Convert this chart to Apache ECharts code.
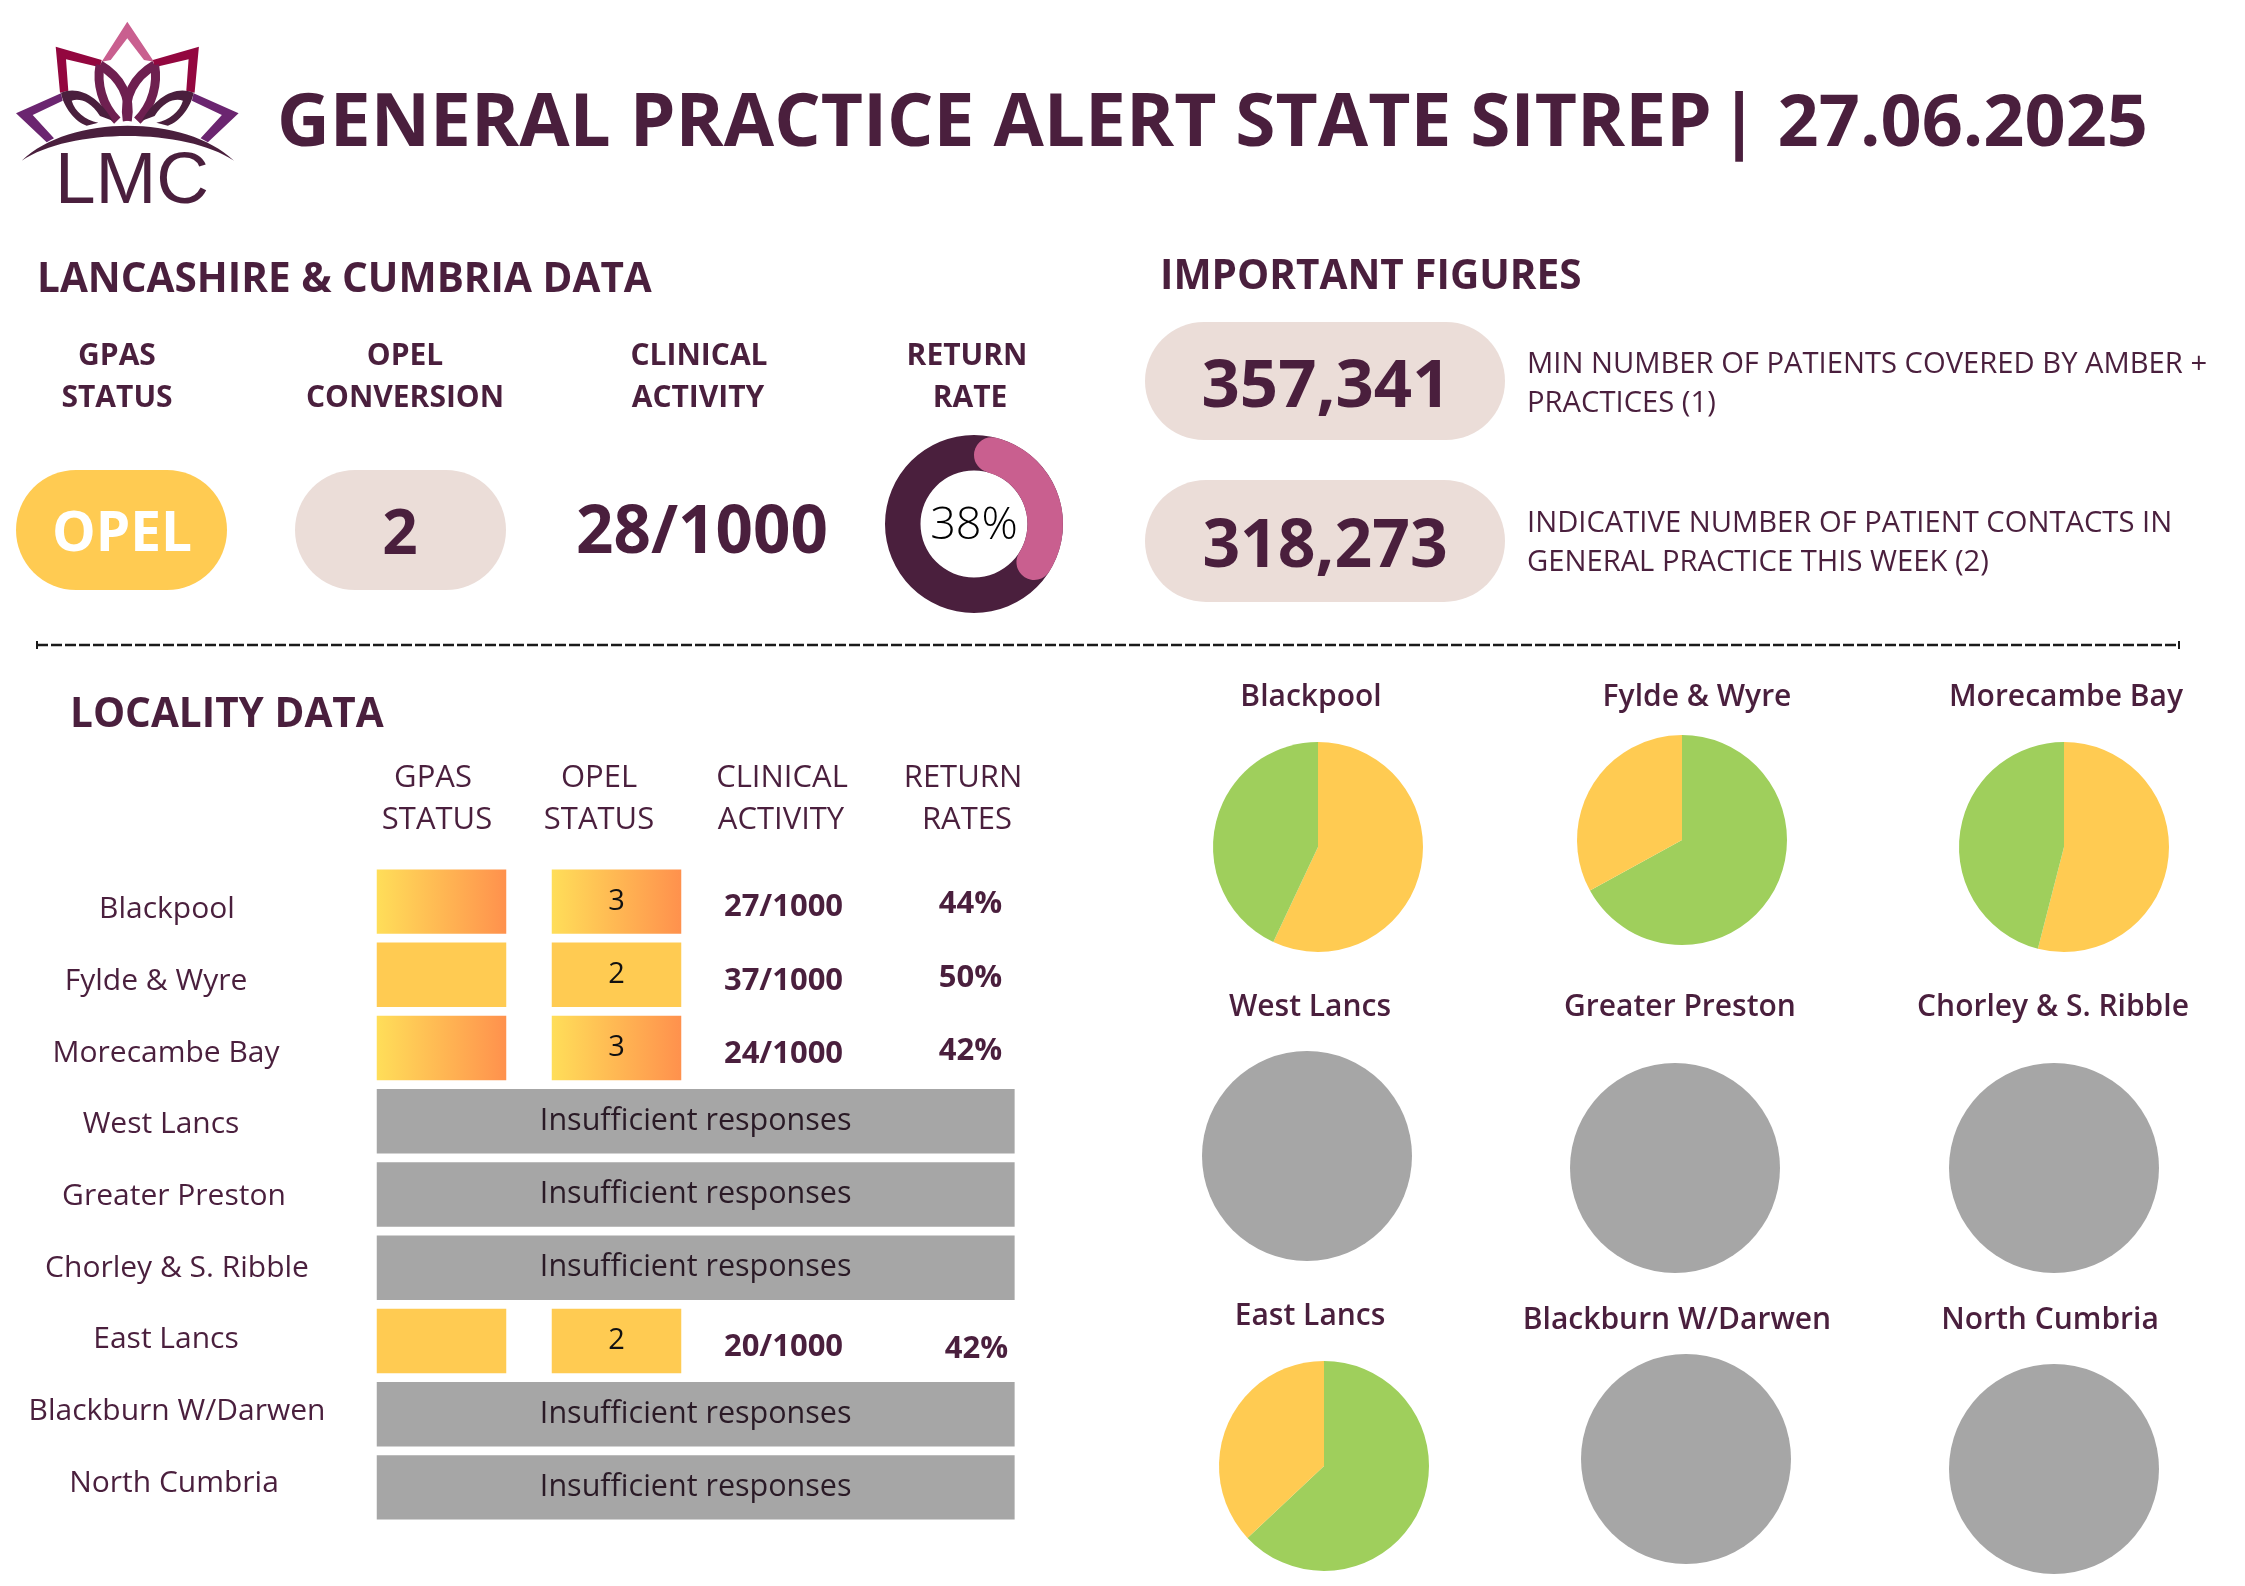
<!DOCTYPE html>
<html>
<head>
<meta charset="utf-8">
<title>General Practice Alert State Sitrep</title>
<script src="https://cdn.jsdelivr.net/npm/echarts@6/dist/echarts.min.js"></script>
<style>
  html, body { margin: 0; padding: 0; background: #fff; }
  #main { width: 2245px; height: 1586px; }
</style>
</head>
<body>
<div id="main"></div>
<script>
// locality table
var localities = ['Blackpool', 'Fylde & Wyre', 'Morecambe Bay', 'West Lancs', 'Greater Preston', 'Chorley & S. Ribble', 'East Lancs', 'Blackburn W/Darwen', 'North Cumbria'];
var opelStatus = [3, 2, 3, null, null, null, 2, null, null];
var clinicalActivity = ['27/1000', '37/1000', '24/1000', null, null, null, '20/1000', null, null];
var returnRates = ['44%', '50%', '42%', null, null, null, '42%', null, null];
var insufficientText = 'Insufficient responses';

// pies, same order as localities. null = no responses, drawn grey
var amberShare = [57, 33, 54, null, null, null, 37, null, null];
var greenShare = [43, 67, 46, null, null, null, 63, null, null];
var amberFirst = [true, false, true, false, false, false, false, false, false];

// headline figures
var returnRate = 38;
var overallStatus = 'OPEL';
var opelConversion = '2';
var overallActivity = '28/1000';
var patientsCovered = '357,341';
var patientContacts = '318,273';

var ink = '#4A1F3D';
var amber = '#FFCB52';
var green = '#9FCF5C';
var grey = '#A6A6A6';
var beige = '#EBDDD8';
var pink = '#C95F8F';
var font = '"Open Sans"';

function txt(text, x, y, size, weight, opts) {
  opts = opts || {};
  return {
    type: 'text', x: x, y: y, silent: true,
    style: {
      text: text, fontSize: size, fontWeight: weight, fontFamily: opts.family || font,
      fill: opts.fill || ink, align: opts.align || 'center', verticalAlign: 'middle'
    }
  };
}
function pill(x, y, w, h, fill) {
  return { type: 'rect', silent: true, shape: { x: x, y: y, width: w, height: h, r: h / 2 }, style: { fill: fill } };
}
function solid(d, color) {
  return { type: 'path', silent: true, shape: { pathData: d }, style: { fill: color } };
}
function stroke(d, color, width) {
  return { type: 'path', silent: true, shape: { pathData: d }, style: { fill: 'none', stroke: color, lineWidth: width } };
}

// logo, drawn through a custom series since graphic has no path type
function logoHalf() {
  return [
    solid('M55.7 46.7L101.7 60L100 67.3L66 59.3L68.3 90.7L60 92.7Z', '#93073F'),
    solid('M61 93.3L16 113.3L46.7 142.3L54 138.3L32.7 115L62.7 100.7Z', '#6B2570'),
    stroke('M100 65C96.7 83 101.7 105 117.3 120.7', '#6E2050', 9),
    stroke('M100 65C120 76.7 131.7 96.7 127.3 120.7', '#6E2050', 9),
    solid('M61 92.7C80 85 100 98.3 112.7 120.7L100 116C90 100 78.3 98.3 71.7 100.7C75 111.7 85 120 98.3 122.7L86.7 125.7C75 121.7 63.3 106.7 61 92.7Z', ink)
  ];
}
function renderLogo() {
  return {
    type: 'group',
    children: [
      solid('M127.3 21.7L154 61.7L144 60L127.3 38.3L110.7 60L101.7 61.7Z', pink),
      { type: 'group', children: logoHalf() },
      { type: 'group', x: 254.6, scaleX: -1, children: logoHalf() },
      solid('M21.7 160.7C70 114 185 114 234 160.7C185 127.8 70 127.8 21.7 160.7Z', ink)
    ]
  };
}

var elements = [];
elements.push(txt('LMC', 132, 183, 73, 400, { family: '"Liberation Sans"' }));
elements.push(txt('GENERAL PRACTICE ALERT STATE SITREP', 277, 125, 73, 700, { align: 'left' }));
elements.push(txt('| 27.06.2025', 2148, 125, 72, 700, { align: 'right' }));

elements.push(txt('LANCASHIRE & CUMBRIA DATA', 37, 280, 40.5, 700, { align: 'left' }));
elements.push(txt('IMPORTANT FIGURES', 1160, 277, 40.5, 700, { align: 'left' }));

[['GPAS', 117], ['OPEL', 405], ['CLINICAL', 699], ['RETURN', 967]].forEach(function (h) { elements.push(txt(h[0], h[1], 356, 30, 700)); });
[['STATUS', 117], ['CONVERSION', 405], ['ACTIVITY', 698], ['RATE', 970]].forEach(function (h) { elements.push(txt(h[0], h[1], 398, 30, 700)); });

elements.push(pill(16, 470, 211, 120, amber));
elements.push(txt(overallStatus, 122, 535, 55, 700, { fill: '#fff' }));
elements.push(pill(295, 470, 211, 120, beige));
elements.push(txt(opelConversion, 400, 536, 62, 700));
elements.push(txt(overallActivity, 702, 534, 65.5, 700));

elements.push(pill(1145, 322, 360, 118, beige));
elements.push(txt(patientsCovered, 1326, 388, 67, 700));
elements.push(pill(1145, 480, 360, 122, beige));
elements.push(txt(patientContacts, 1325, 548, 66, 700));
elements.push(txt('MIN NUMBER OF PATIENTS COVERED BY AMBER +', 1527, 365, 29.2, 400, { align: 'left' }));
elements.push(txt('PRACTICES (1)', 1527, 404, 29.2, 400, { align: 'left' }));
elements.push(txt('INDICATIVE NUMBER OF PATIENT CONTACTS IN', 1527, 524, 29.2, 400, { align: 'left' }));
elements.push(txt('GENERAL PRACTICE THIS WEEK (2)', 1527, 563, 29.2, 400, { align: 'left' }));

// dashed divider with end ticks
elements.push({ type: 'line', silent: true, shape: { x1: 37, y1: 645, x2: 2179, y2: 645 }, style: { stroke: '#1a1a1a', lineWidth: 2.5, lineDash: [11, 3] } });
elements.push({ type: 'line', silent: true, shape: { x1: 37, y1: 641, x2: 37, y2: 649 }, style: { stroke: '#1a1a1a', lineWidth: 2 } });
elements.push({ type: 'line', silent: true, shape: { x1: 2179, y1: 641, x2: 2179, y2: 649 }, style: { stroke: '#1a1a1a', lineWidth: 2 } });

elements.push(txt('LOCALITY DATA', 70, 715, 40.5, 700, { align: 'left' }));
[['GPAS', 433], ['OPEL', 599], ['CLINICAL', 782], ['RETURN', 963]].forEach(function (h) { elements.push(txt(h[0], h[1], 778, 31, 400)); });
[['STATUS', 437], ['STATUS', 599], ['ACTIVITY', 781], ['RATES', 967]].forEach(function (h) { elements.push(txt(h[0], h[1], 820, 31, 400)); });

// table cells go through the category scales of grid 1
var hot = { type: 'linear', x: 0, y: 0, x2: 1, y2: 0, colorStops: [{ offset: 0, color: '#FFDE59' }, { offset: 1, color: '#FF914D' }] };
var cells = [];
localities.forEach(function (name, row) {
  if (opelStatus[row] === null) {
    cells.push({ value: [0, row], kind: 'span' });
    return;
  }
  var fill = opelStatus[row] === 3 ? hot : amber;
  cells.push({ value: [0, row], kind: 'box', fill: fill, label: '' });
  cells.push({ value: [1, row], kind: 'box', fill: fill, label: String(opelStatus[row]) });
  cells.push({ value: [2, row], kind: 'text', label: clinicalActivity[row], dx: -8, dy: 6 });
  // East Lancs sits a little off in the original
  cells.push({ value: [3, row], kind: 'text', label: returnRates[row], dx: row === 6 ? 10 : 4, dy: row === 6 ? 8 : 3 });
});

function renderCell(params, api) {
  var c = cells[params.dataIndex];
  var p = api.coord([api.value(0), api.value(1)]);
  var band = api.size([1, 1]);
  var h = band[1] * 0.88;
  var w = band[0] * 0.74;
  var left = p[0] - w / 2;
  var kids = [];
  if (c.kind === 'span') {
    var spanW = band[0] * 3.645;
    kids.push({ type: 'rect', shape: { x: left, y: p[1] - h / 2, width: spanW, height: h }, style: { fill: grey } });
    kids.push({ type: 'text', style: { text: insufficientText, x: left + spanW / 2, y: p[1], align: 'center', verticalAlign: 'middle', fontSize: 30.5, fontFamily: font, fill: '#2a1a26' } });
  } else if (c.kind === 'box') {
    kids.push({ type: 'rect', shape: { x: left, y: p[1] - h / 2, width: w, height: h }, style: { fill: c.fill } });
    kids.push({ type: 'text', style: { text: c.label, x: p[0], y: p[1], align: 'center', verticalAlign: 'middle', fontSize: 29, fontFamily: font, fill: '#111' } });
  } else {
    kids.push({ type: 'text', style: { text: c.label, x: p[0] + c.dx, y: p[1] + c.dy, align: 'center', verticalAlign: 'middle', fontSize: 31, fontWeight: 700, fontFamily: font, fill: ink } });
  }
  return { type: 'group', children: kids };
}

var series = [
  // grid 0 only carries the row names
  { type: 'scatter', xAxisIndex: 0, yAxisIndex: 0, symbolSize: 0, silent: true, data: [] },
  { type: 'custom', xAxisIndex: 1, yAxisIndex: 1, silent: true, renderItem: renderCell, encode: { x: 0, y: 1 }, data: cells.map(function (c) { return c.value; }) },
  { type: 'custom', coordinateSystem: 'none', silent: true, renderItem: renderLogo, data: [0] }
];

// pie layout on the page: 3x3, same order as localities
var pieCenters = [[1318, 847], [1682, 840], [2064, 847], [1307, 1156], [1675, 1168], [2054, 1168], [1324, 1466], [1686, 1459], [2054, 1469]];
var pieTitles = [[1311, 697], [1697, 697], [2066, 697], [1310, 1007], [1680, 1007], [2053, 1007], [1310, 1316], [1677, 1320], [2050, 1320]];
// row names are not quite lined up in the original
var labelNudge = [-3, -14, -4, -9, 4, 7, -4, 7, 4];

localities.forEach(function (name, i) {
  var slices;
  if (amberShare[i] === null) {
    slices = [{ value: 100, itemStyle: { color: grey } }];
  } else {
    var a = { value: amberShare[i], itemStyle: { color: amber } };
    var g = { value: greenShare[i], itemStyle: { color: green } };
    slices = amberFirst[i] ? [a, g] : [g, a];
  }
  series.push({
    type: 'pie', center: pieCenters[i], radius: 105, startAngle: 90, silent: true,
    label: { show: false }, labelLine: { show: false }, data: slices
  });
  elements.push(txt(name, pieTitles[i][0], pieTitles[i][1], 30, 600));
});

// return rate ring
series.push({
  type: 'pie', center: [974, 524], radius: [53.5, 89], silent: true,
  label: { show: false }, labelLine: { show: false },
  data: [{ value: 100, itemStyle: { color: ink } }]
});
series.push({
  type: 'pie', center: [974, 524], radius: [53.5, 89], startAngle: 90, silent: true, z: 3,
  label: { show: false }, labelLine: { show: false },
  data: [
    { value: returnRate, itemStyle: { color: pink, borderRadius: 18 } },
    { value: 100 - returnRate, itemStyle: { color: 'transparent' } }
  ]
});
elements.push(txt(returnRate + '%', 974, 526, 45, 300, { fill: '#000' }));

var rowLabels = localities.map(function (name, i) {
  var d = labelNudge[i];
  return { value: name, textStyle: { align: 'center', padding: d > 0 ? [0, 0, 0, 2 * d] : [0, -2 * d, 0, 0] } };
});

var chart = echarts.init(document.getElementById('main'), null, { renderer: 'canvas' });
chart.setOption({
  backgroundColor: '#fff',
  animation: false,
  grid: [
    { left: 40, top: 874, width: 290, height: 645 },
    { left: 354, top: 865, width: 700, height: 659 }
  ],
  xAxis: [
    { gridIndex: 0, type: 'value', show: false },
    { gridIndex: 1, type: 'category', show: false, data: ['GPAS', 'OPEL', 'CLINICAL', 'RETURN'] }
  ],
  yAxis: [
    {
      gridIndex: 0, type: 'category', inverse: true, data: rowLabels, position: 'left',
      axisLine: { show: false }, axisTick: { show: false }, splitLine: { show: false },
      axisLabel: { inside: true, margin: 130, align: 'center', color: ink, fontSize: 30, fontFamily: font, interval: 0 }
    },
    { gridIndex: 1, type: 'category', show: false, inverse: true, data: localities }
  ],
  series: series,
  graphic: { elements: elements }
});
</script>
</body>
</html>
